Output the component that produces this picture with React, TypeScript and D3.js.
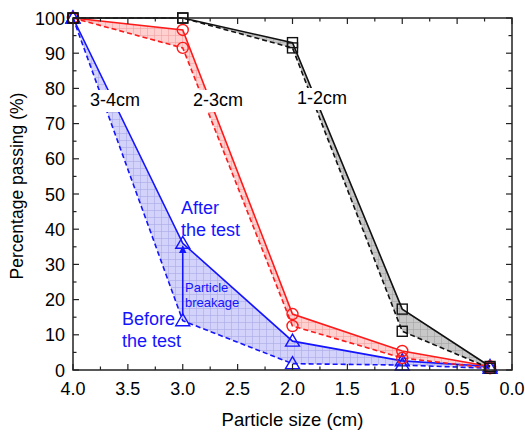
import React from 'react'
import * as d3 from 'd3'

// particle size (cm) and percentage passing
const sizes = [4.0, 3.0, 2.0, 1.0, 0.2]
const after12 = [100, 100, 93, 17.3, 1]
const before12 = [100, 100, 91.5, 11, 0.5]
const after23 = [100, 96.6, 15.9, 5.4, 1]
const before23 = [100, 91.5, 12.5, 3.4, 0.5]
const after34 = [100, 36, 8.2, 2.6, 1]
const before34 = [100, 14, 1.8, 1.4, 0.5]

const xTicks = [4.0, 3.5, 3.0, 2.5, 2.0, 1.5, 1.0, 0.5, 0.0]
const yTicks = [0, 10, 20, 30, 40, 50, 60, 70, 80, 90, 100]

const W = 525, H = 432
const left = 73, right = 512, top = 18, bottom = 370
const font = 'Liberation Sans, Arial, sans-serif'

const series = [
  { key: 'b', label: '3-4cm', after: after34, before: before34, color: '#1414ff', fill: '#d2d2fa', grid: '#a9a9e8', marker: 'tri' },
  { key: 'r', label: '2-3cm', after: after23, before: before23, color: '#ff1a1a', fill: '#ffd0d0', grid: '#f0a3a3', marker: 'circ' },
  { key: 'k', label: '1-2cm', after: after12, before: before12, color: '#111', fill: '#c8c8c8', grid: '#a2a2a2', marker: 'sq' },
]

export default function App() {
  const x = d3.scaleLinear().domain([4, 0]).range([left, right])
  const y = d3.scaleLinear().domain([0, 100]).range([bottom, top])

  const line = d3.line<number>().x((_, i) => x(sizes[i])).y(d => y(d))
  const area = (a: number[], b: number[]) =>
    d3.area<number>().x((_, i) => x(sizes[i])).y0((_, i) => y(b[i])).y1(d => y(d))(a) as string

  const xMinor = d3.range(0, 17).map(i => 4 - i * 0.25)
  const yMinor = d3.range(0, 21).map(i => i * 5)

  const marker = (kind: string, cx: number, cy: number, color: string, k: string) => {
    if (kind === 'circ') return <circle key={k} cx={cx} cy={cy} r={5.5} fill="none" stroke={color} strokeWidth={1.4} />
    if (kind === 'sq') return <rect key={k} x={cx - 5} y={cy - 5} width={10} height={10} fill="none" stroke={color} strokeWidth={1.4} />
    return <path key={k} d={`M${cx},${cy - 7}L${cx + 7},${cy + 5}L${cx - 7},${cy + 5}Z`} fill="none" stroke={color} strokeWidth={1.4} />
  }

  const labels = [
    { t: '3-4cm', x: 115, y: 106 },
    { t: '2-3cm', x: 218, y: 106 },
    { t: '1-2cm', x: 322, y: 104 },
  ]

  return (
    <svg width={W} height={H} style={{ position: 'absolute', left: 0, top: 0, background: '#fff' }} fontFamily={font}>
      <defs>
        {series.map(s => (
          <pattern key={s.key} id={'pat' + s.key} width={7} height={7} patternUnits="userSpaceOnUse">
            <rect width={7} height={7} fill={s.fill} />
            <path d="M0,0.5H7M0.5,0V7" stroke={s.grid} strokeWidth={0.6} />
          </pattern>
        ))}
        <marker id="arr" viewBox="0 0 10 10" refX={9} refY={5} markerWidth={5} markerHeight={6} orient="auto">
          <path d="M0,0L10,5L0,10Z" fill="#1414ff" />
        </marker>
        <clipPath id="clip"><rect x={left} y={top - 8} width={right - left} height={bottom - top + 8} /></clipPath>
      </defs>

      <g clipPath="url(#clip)">
        {series.map(s => (
          <path key={'a' + s.key} d={area(s.after, s.before)} fill={`url(#pat${s.key})`} />
        ))}
        {series.map(s => (
          <g key={'l' + s.key}>
            <path d={line(s.before) as string} fill="none" stroke={s.color} strokeWidth={1.6} strokeDasharray="5,3" />
            <path d={line(s.after) as string} fill="none" stroke={s.color} strokeWidth={1.6} />
          </g>
        ))}
      </g>
      {series.map(s => (
        <g key={'m' + s.key}>
          {s.after.map((v, i) => marker(s.marker, x(sizes[i]), y(v), s.color, 'a' + i))}
          {s.before.map((v, i) => marker(s.marker, x(sizes[i]), y(v), s.color, 'b' + i))}
        </g>
      ))}

      {labels.map(l => (
        <g key={l.t}>
          <rect x={l.x - 29} y={l.y - 16} width={58} height={22} fill="#fff" />
          <text x={l.x} y={l.y} textAnchor="middle" fontSize={18}>{l.t}</text>
        </g>
      ))}

      {/* annotations */}
      <line x1={x(3)} x2={x(3)} y1={y(14) - 5} y2={y(36) + 3} stroke="#1414ff" strokeWidth={1.6} markerEnd="url(#arr)" />
      <g fill="#1414ff">
        <text x={181} y={214} fontSize={18}>After</text>
        <text x={181} y={236} fontSize={18}>the test</text>
        <text x={122} y={325} fontSize={18}>Before</text>
        <text x={122} y={347} fontSize={18}>the test</text>
        <text x={185} y={292} fontSize={13}>Particle</text>
        <text x={185} y={307} fontSize={13}>breakage</text>
      </g>

      {/* frame and ticks */}
      <rect x={left} y={top} width={right - left} height={bottom - top} fill="none" stroke="#222" strokeWidth={1.5} />
      {xMinor.map(t => {
        const big = Math.abs(t * 2 - Math.round(t * 2)) < 1e-6
        const len = big ? 6 : 3.5
        return (
          <g key={'xt' + t} stroke="#222" strokeWidth={1.2}>
            <line x1={x(t)} x2={x(t)} y1={bottom} y2={bottom - len} />
            <line x1={x(t)} x2={x(t)} y1={top} y2={top + len} />
          </g>
        )
      })}
      {yMinor.map(t => {
        const len = t % 10 === 0 ? 6 : 3.5
        return (
          <g key={'yt' + t} stroke="#222" strokeWidth={1.2}>
            <line x1={left} x2={left + len} y1={y(t)} y2={y(t)} />
            <line x1={right} x2={right - len} y1={y(t)} y2={y(t)} />
          </g>
        )
      })}
      {xTicks.map(t => (
        <text key={'xl' + t} x={x(t)} y={bottom + 25} textAnchor="middle" fontSize={18}>{t.toFixed(1)}</text>
      ))}
      {yTicks.map(t => (
        <text key={'yl' + t} x={left - 8} y={y(t) + 6.5} textAnchor="end" fontSize={18}>{t}</text>
      ))}
      <text x={(left + right) / 2} y={426} textAnchor="middle" fontSize={18.5}>Particle size (cm)</text>
      <text transform={`translate(23,186) rotate(-90)`} textAnchor="middle" fontSize={17.5}>Percentage passing (%)</text>
    </svg>
  )
}
